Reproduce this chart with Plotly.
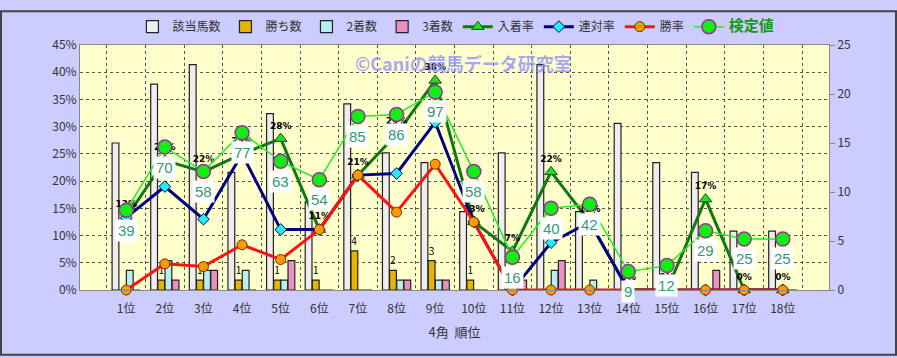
import plotly.graph_objects as go

categories = [f"{i}位" for i in range(1, 19)]
horses = [15, 21, 23, 12, 18, 9, 19, 14, 13, 8, 14, 23, 8, 17, 13, 12, 6, 6]
wins = [0, 1, 1, 1, 1, 1, 4, 2, 3, 1, 0, 0, 0, 0, 0, 0, 0, 0]
second = [2, 3, 2, 2, 1, 0, 0, 1, 1, 0, 0, 2, 1, 0, 0, 0, 0, 0]
third = [0, 1, 2, 0, 3, 0, 0, 1, 1, 0, 1, 3, 0, 0, 0, 2, 0, 0]
place_rate = [13.3, 23.8, 21.7, 25.0, 27.8, 11.1, 21.1, 28.6, 38.5, 12.5, 7.1, 21.7, 12.5, 0, 0, 16.7, 0, 0]
place_labels = ["13%", "24%", "22%", "25%", "28%", "11%", "21%", "29%", "38%", "13%", "7%", "22%", "13%", "0%", "0%", "17%", "0%", "0%"]
top2_rate = [13.3, 19.0, 13.0, 25.0, 11.1, 11.1, 21.1, 21.4, 30.8, 12.5, 0, 8.7, 12.5, 0, 0, 0, 0, 0]
win_rate = [0, 4.8, 4.3, 8.3, 5.6, 11.1, 21.1, 14.3, 23.1, 12.5, 0, 0, 0, 0, 0, 0, 0, 0]
test_value = [39, 70, 58, 77, 63, 54, 85, 86, 97, 58, 16, 40, 42, 9, 12, 29, 25, 25]

FONT = "Noto Sans CJK JP, Liberation Sans, sans-serif"

fig = go.Figure()
bar_line = dict(color="#222222", width=1.2)
fig.add_trace(go.Bar(x=categories, y=horses, name="該当馬数", yaxis="y",
                     marker=dict(color="#eeeeee", line=bar_line)))
fig.add_trace(go.Bar(x=categories, y=wins, name="勝ち数", yaxis="y",
                     marker=dict(color="#e8b400", line=bar_line),
                     text=[str(v) if v else "" for v in wins], textposition="outside",
                     textfont=dict(size=10, color="#000000", family=FONT),
                     cliponaxis=False, constraintext="none"))
fig.add_trace(go.Bar(x=categories, y=second, name="2着数", yaxis="y",
                     marker=dict(color="#b8f0f0", line=bar_line)))
fig.add_trace(go.Bar(x=categories, y=third, name="3着数", yaxis="y",
                     marker=dict(color="#ec90c4", line=bar_line)))

fig.add_trace(go.Scatter(x=categories, y=place_rate, name="入着率", yaxis="y2",
                         mode="lines+markers+text", text=[f"<b>{t}</b>" for t in place_labels],
                         textposition="top center",
                         textfont=dict(size=9, color="#000000", family="DejaVu Sans"),
                         line=dict(color="#117711", width=3),
                         marker=dict(symbol="triangle-up", size=11, color="#22dd22",
                                     line=dict(color="#115511", width=1)),
                         cliponaxis=False))
fig.add_trace(go.Scatter(x=categories, y=top2_rate, name="連対率", yaxis="y2",
                         mode="lines+markers",
                         line=dict(color="#000080", width=3),
                         marker=dict(symbol="diamond", size=9, color="#22eeee",
                                     line=dict(color="#000080", width=1)),
                         cliponaxis=False))
fig.add_trace(go.Scatter(x=categories, y=win_rate, name="勝率", yaxis="y2",
                         mode="lines+markers",
                         line=dict(color="#ff1111", width=3),
                         marker=dict(symbol="circle", size=10, color="#ff9900",
                                     line=dict(color="#663300", width=1)),
                         cliponaxis=False))
fig.add_trace(go.Scatter(x=categories, y=test_value,
                         name="<span style='color:#119911;font-size:15px'><b>検定値</b></span>",
                         yaxis="y3", mode="lines+markers",
                         line=dict(color="#22ee22", width=1.5),
                         marker=dict(symbol="circle", size=14, color="#11ee11",
                                     line=dict(color="#993399", width=1.5)),
                         cliponaxis=False))

for c, v in zip(categories, test_value):
    fig.add_annotation(x=c, y=v, xref="x", yref="y3", text=str(v), showarrow=False,
                       yshift=-20, bgcolor="#ffffff",
                       font=dict(size=15, color="#339977", family="Liberation Sans"),
                       borderpad=2)

L, R, T, B = 80, 68, 36, 68
W, H = 897, 358
pw, ph = W - L - R, H - T - B

fig.add_annotation(x=(463 - L) / pw, y=(290 - 55) / ph, xref="paper", yref="paper",
                   xanchor="center", yanchor="middle",
                   text="<b>©Caniの競馬データ研究室</b>", showarrow=False,
                   font=dict(size=18, color="rgba(140,140,255,0.75)", family=FONT))

fig.add_shape(type="rect", xref="paper", yref="paper",
              x0=(-L + 1) / pw, x1=(W - L - 1) / pw,
              y0=(-B + 1) / ph, y1=1 + (T - 1) / ph,
              line=dict(color="#444444", width=2), layer="below")

axis_font = dict(size=12, color="#333333", family=FONT)
fig.update_layout(
    width=W, height=H,
    margin=dict(l=L, r=R, t=T, b=B),
    paper_bgcolor="#ccccff",
    plot_bgcolor="#ffffcc",
    barmode="group", bargap=0.26, bargroupgap=0.05,
    font=dict(family=FONT, size=12, color="#333333"),
    showlegend=True,
    legend=dict(orientation="h", x=0.07, xanchor="left", y=1 + 19 / ph, yanchor="middle",
                bgcolor="rgba(0,0,0,0)", font=dict(size=12, color="#333333", family=FONT),
                itemwidth=30, tracegroupgap=0),
    xaxis=dict(type="category", tickson="boundaries", showgrid=True,
               gridcolor="#555555", griddash="dot", gridwidth=1,
               showline=True, linecolor="#888888", linewidth=1, mirror=True,
               ticks="", tickfont=axis_font, ticklabelstandoff=8,
               title=dict(text="4角  順位", font=dict(size=13, color="#333333", family=FONT), standoff=12)),
    yaxis=dict(range=[0, 25], dtick=5, side="right", showgrid=False,
               ticks="outside", ticklen=5, tickcolor="#888888",
               showline=True, linecolor="#888888", tickfont=axis_font, zeroline=False),
    yaxis2=dict(range=[0, 45], dtick=5, side="left", overlaying="y", ticksuffix="%",
                showgrid=True, gridcolor="#555555", griddash="dot", gridwidth=1,
                ticks="", showline=True, linecolor="#888888", tickfont=axis_font,
                zeroline=False),
    yaxis3=dict(range=[0, 120], overlaying="y", visible=False),
)

fig.write_html("out.html")
